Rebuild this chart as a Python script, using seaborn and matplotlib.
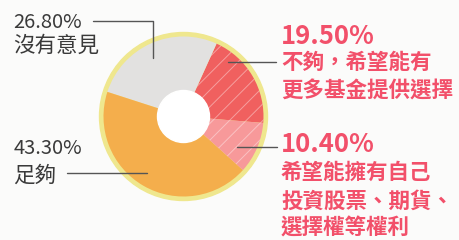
import matplotlib
matplotlib.use("Agg")
import matplotlib.pyplot as plt
import seaborn as sns
from matplotlib.patches import Circle

sns.set_theme(style="white")
plt.rcParams['font.family'] = ['Noto Sans CJK TC', 'DejaVu Sans']
plt.rcParams['hatch.linewidth'] = 0.7

# data
labels = ["不夠，希望能有更多基金提供選擇", "沒有意見", "足夠", "希望能擁有自己投資股票、期貨、選擇權等權利"]
values = [19.5, 26.8, 43.3, 10.4]
pct_text = ["19.50%", "26.80%", "43.30%", "10.40%"]
colors = ["#f0605f", "#e2e1e0", "#f4ae4c", "#f7999a"]
hatches = ["//", "", "", "//"]

W, H = 459, 240
fig = plt.figure(figsize=(W / 100, H / 100), dpi=100)
fig.patch.set_facecolor("#fbfbfa")
ax = fig.add_axes([0, 0, 1, 1])
ax.set_xlim(0, W)
ax.set_ylim(0, H)
ax.set_aspect("equal")
ax.axis("off")

cx, cy = 183.5, H - 116.5
ax.add_patch(Circle((cx, cy), 84, color="#efe78e", zorder=1))
wedges, _ = ax.pie(values, colors=colors, startangle=-4.6, counterclock=True,
                   radius=80, center=(cx, cy), frame=True,
                   wedgeprops=dict(width=54, linewidth=0))
for w, h in zip(wedges, hatches):
    w.set_zorder(2)
    if h:
        w.set_hatch(h)
        w.set_edgecolor((1, 1, 1, 0.4))
ax.add_patch(Circle((cx, cy), 26, color="white", zorder=3))
ax.set_xlim(0, W)
ax.set_ylim(0, H)
ax.axis("off")

dark = "#3a3a3a"
red = "#f2506a"
lc = "#555555"

def Y(y):
    return H - y

# leader lines
ax.plot([93, 153, 153], [Y(20.5), Y(20.5), Y(58)], color=lc, lw=1, zorder=5)
ax.plot([67, 147], [Y(173), Y(173)], color=lc, lw=1, zorder=5)
ax.plot([228, 276], [Y(62), Y(62)], color=lc, lw=1, zorder=5)
ax.plot([237, 277], [Y(147), Y(147)], color=lc, lw=1, zorder=5)

# left labels
ax.text(13.5, Y(22.5), pct_text[1], color=dark, fontsize=14.5, va="center", ha="left")
ax.text(13.5, Y(46), labels[1], color=dark, fontsize=15.5, va="center", ha="left")
ax.text(13.5, Y(148.5), pct_text[2], color=dark, fontsize=14.5, va="center", ha="left")
ax.text(13.5, Y(175.5), labels[2], color=dark, fontsize=15.5, va="center", ha="left")

# right labels
rx = 281
ax.text(rx, Y(36.5), pct_text[0], color=red, fontsize=18.5, fontweight="bold", va="center", ha="left")
ax.text(rx, Y(62.5), "不夠，希望能有", color=red, fontsize=15.5, fontweight="bold", va="center", ha="left")
ax.text(rx, Y(91), "更多基金提供選擇", color=red, fontsize=15.5, fontweight="bold", va="center", ha="left")
ax.text(rx, Y(144), pct_text[3], color=red, fontsize=18.5, fontweight="bold", va="center", ha="left")
ax.text(rx, Y(172.5), "希望能擁有自己", color=red, fontsize=15.5, fontweight="bold", va="center", ha="left")
ax.text(rx, Y(201), "投資股票、期貨、", color=red, fontsize=15.5, fontweight="bold", va="center", ha="left")
ax.text(rx, Y(228.5), "選擇權等權利", color=red, fontsize=15.5, fontweight="bold", va="center", ha="left")

fig.savefig("out.png", dpi=100, facecolor=fig.get_facecolor())
